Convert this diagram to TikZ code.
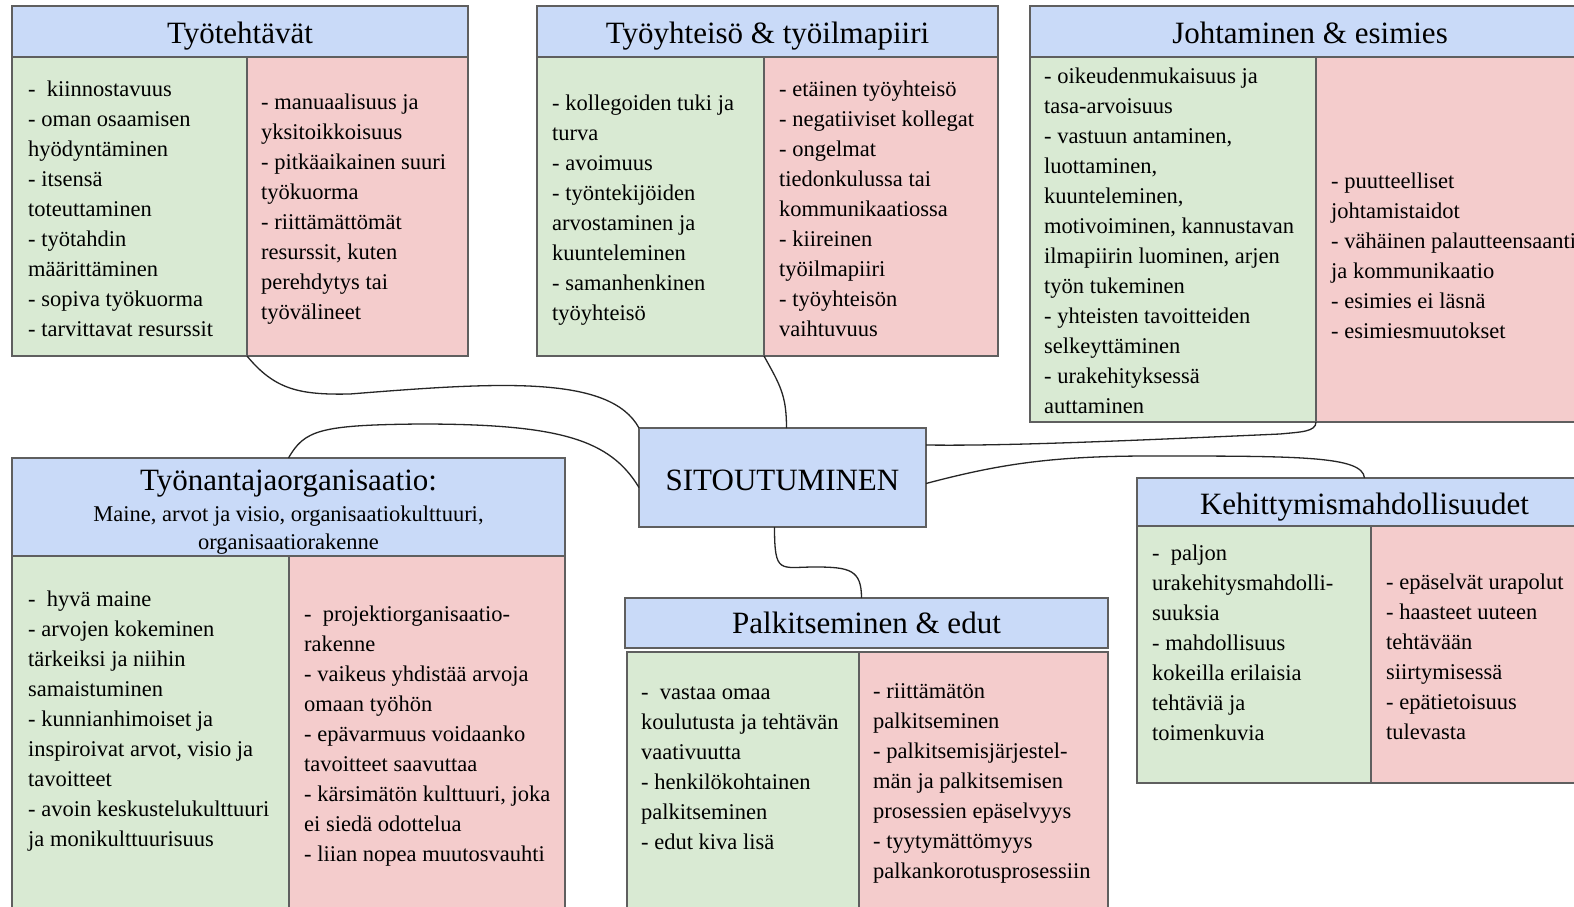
\documentclass[tikz,border=0pt]{standalone}
\usepackage{fontspec}
\setmainfont{Liberation Serif}
\usetikzlibrary{calc}
\definecolor{hblue}{HTML}{C9DAF8}
\definecolor{pgreen}{HTML}{D9EAD3}
\definecolor{pred}{HTML}{F4CCCC}
\definecolor{bord}{HTML}{5F5F5F}
\begin{document}
\begin{tikzpicture}[x=1pt,y=-1pt,
  box/.style={draw=bord, line width=1.3pt, rectangle, inner sep=0pt, outer sep=0pt, anchor=north west},
  hdr/.style={box, fill=hblue},
  gcol/.style={box, fill=pgreen},
  rcol/.style={box, fill=pred},
  ttl/.style={anchor=base, inner sep=0pt, font=\fontsize{31}{36}\selectfont},
  sub/.style={anchor=base, inner sep=0pt, font=\fontsize{22.5}{29}\selectfont},
  txt/.style={anchor=west, align=left, inner sep=0pt, font=\fontsize{22.5}{30}\selectfont},
  conn/.style={draw=black!85, line width=1.3pt}
]
\useasboundingbox (0,0) rectangle (1574,907);
\fill[white] (0,0) rectangle (1574,907);
\clip (0,0) rectangle (1574,907);

% Box 1
\node[hdr, minimum width=456pt, minimum height=51pt] (t1h) at (12,6) {};
\node[ttl] (t1ht) at (240,44) {Työtehtävät};
\node[gcol, minimum width=235pt, minimum height=299pt] (t1g) at (12,57) {};
\node[rcol, minimum width=221pt, minimum height=299pt] (t1r) at (247,57) {};
\node[txt] (t1gt) at (28,208.5) {-\ \ kiinnostavuus\\- oman osaamisen\\hyödyntäminen\\- itsensä\\toteuttaminen\\- työtahdin\\määrittäminen\\- sopiva työkuorma\\- tarvittavat resurssit};
\node[txt] (t1rt) at (261,209.5) {- manuaalisuus ja\\yksitoikkoisuus\\- pitkäaikainen suuri\\työkuorma\\- riittämättömät\\resurssit, kuten\\perehdytys tai\\työvälineet};

% Box 2
\node[hdr, minimum width=461pt, minimum height=51pt] (t2h) at (537,6) {};
\node[ttl] (t2ht) at (767.5,44) {Työyhteisö \& työilmapiiri};
\node[gcol, minimum width=227pt, minimum height=299pt] (t2g) at (537,57) {};
\node[rcol, minimum width=234pt, minimum height=299pt] (t2r) at (764,57) {};
\node[txt] (t2gt) at (552,210.5) {- kollegoiden tuki ja\\turva\\- avoimuus\\- työntekijöiden\\arvostaminen ja\\kuunteleminen\\- samanhenkinen\\työyhteisö};
\node[txt] (t2rt) at (779,208.5) {- etäinen työyhteisö\\- negatiiviset kollegat\\- ongelmat\\tiedonkulussa tai\\kommunikaatiossa\\- kiireinen\\työilmapiiri\\- työyhteisön\\vaihtuvuus};

% Box 3
\node[hdr, minimum width=560pt, minimum height=51pt] (t3h) at (1030,6) {};
\node[ttl] (t3ht) at (1310,44) {Johtaminen \& esimies};
\node[gcol, minimum width=286pt, minimum height=365pt] (t3g) at (1030,57) {};
\node[rcol, minimum width=274pt, minimum height=365pt] (t3r) at (1316,57) {};
\node[txt] (t3gt) at (1044,240.5) {- oikeudenmukaisuus ja\\tasa-arvoisuus\\- vastuun antaminen,\\luottaminen,\\kuunteleminen,\\motivoiminen, kannustavan\\ilmapiirin luominen, arjen\\työn tukeminen\\- yhteisten tavoitteiden\\selkeyttäminen\\- urakehityksessä\\auttaminen};
\node[txt] (t3rt) at (1331,255.5) {- puutteelliset\\johtamistaidot\\- vähäinen palautteensaanti\\ja kommunikaatio\\- esimies ei läsnä\\- esimiesmuutokset};

% Centre
\node[hdr, minimum width=287pt, minimum height=99pt] (sit) at (639,428) {};
\node[ttl] (sitt) at (782.5,490) {SITOUTUMINEN};

% Box 4
\node[hdr, minimum width=553pt, minimum height=98pt] (t4h) at (12,458) {};
\node[ttl] (t4ht) at (288.5,490) {Työnantajaorganisaatio:};
\node[sub] (t4hs) at (288.5,521) {Maine, arvot ja visio, organisaatiokulttuuri,};
\node[sub] (t4hs2) at (288.5,549) {organisaatiorakenne};
\node[gcol, minimum width=277pt, minimum height=370pt] (t4g) at (12,556) {};
\node[rcol, minimum width=276pt, minimum height=370pt] (t4r) at (289,556) {};
\node[txt] (t4gt) at (28,721) {-\ \ hyvä maine\\- arvojen kokeminen\\tärkeiksi ja niihin\\samaistuminen\\- kunnianhimoiset ja\\inspiroivat arvot, visio ja\\tavoitteet\\- avoin keskustelukulttuuri\\ja monikulttuurisuus};
\node[txt] (t4rt) at (304,736) {-\ \ projektiorganisaatio-\\rakenne\\- vaikeus yhdistää arvoja\\omaan työhön\\- epävarmuus voidaanko\\tavoitteet saavuttaa\\- kärsimätön kulttuuri, joka\\ei siedä odottelua\\- liian nopea muutosvauhti};

% Box 5
\node[hdr, minimum width=483pt, minimum height=50pt] (t5h) at (625,598) {};
\node[ttl] (t5ht) at (866.5,633) {Palkitseminen \& edut};
\node[gcol, minimum width=232pt, minimum height=280pt] (t5g) at (627,652) {};
\node[rcol, minimum width=249pt, minimum height=280pt] (t5r) at (859,652) {};
\node[txt] (t5gt) at (641,768) {-\ \ vastaa omaa\\koulutusta ja tehtävän\\vaativuutta\\- henkilökohtainen\\palkitseminen\\- edut kiva lisä};
\node[txt] (t5rt) at (873,783) {- riittämätön\\palkitseminen\\- palkitsemisjärjestel-\\män ja palkitsemisen\\prosessien epäselvyys\\- tyytymättömyys\\palkankorotusprosessiin};

% Box 6
\node[hdr, minimum width=455pt, minimum height=48pt] (t6h) at (1137,478) {};
\node[ttl] (t6ht) at (1364.5,514) {Kehittymismahdollisuudet};
\node[gcol, minimum width=234pt, minimum height=257pt] (t6g) at (1137,526) {};
\node[rcol, minimum width=221pt, minimum height=257pt] (t6r) at (1371,526) {};
\node[txt] (t6gt) at (1152,643) {-\ \ paljon\\urakehitysmahdolli-\\suuksia\\- mahdollisuus\\kokeilla erilaisia\\tehtäviä ja\\toimenkuvia};
\node[txt] (t6rt) at (1386,657) {- epäselvät urapolut\\- haasteet uuteen\\tehtävään\\siirtymisessä\\- epätietoisuus\\tulevasta};

% Connectors
\coordinate (k1) at (350,394);
\coordinate (k3) at (1280,434);
\coordinate (k4) at (420,424);
\coordinate (k5) at (815,567);
\coordinate (k6) at (1150,456);
\draw[conn] (t1g.south east) .. controls +(28,34) and +(-50,1) .. (k1) .. controls +(150,-12) and +(-29,-53) .. (sit.north west);
\draw[conn] (t2g.south east) .. controls +(16,29) and +(0,-33) .. ($(sit.north)+(4,0)$);
\draw[conn] (t3g.south east) .. controls +(0,10) and +(20,-2) .. (k3) .. controls +(-180,8) and +(74,1) .. ($(sit.north east)+(0,17)$);
\draw[conn] (t4h.north) .. controls +(16,-28) and +(-100,1) .. (k4) .. controls +(140,0) and +(-29,-48) .. ($(sit.west)+(0,10)$);
\draw[conn] ($(sit.south)+(-8,0)$) .. controls +(0,48) and +(-35,0) .. (k5) .. controls +(35,0) and +(0,-28) .. ($(t5h.north)+(-5,0)$);
\draw[conn] ($(sit.east)+(0,6)$) .. controls +(72,-19) and +(-100,0) .. (k6) .. controls +(150,0) and +(-2,-22) .. (t6h.north);
\end{tikzpicture}
\end{document}
